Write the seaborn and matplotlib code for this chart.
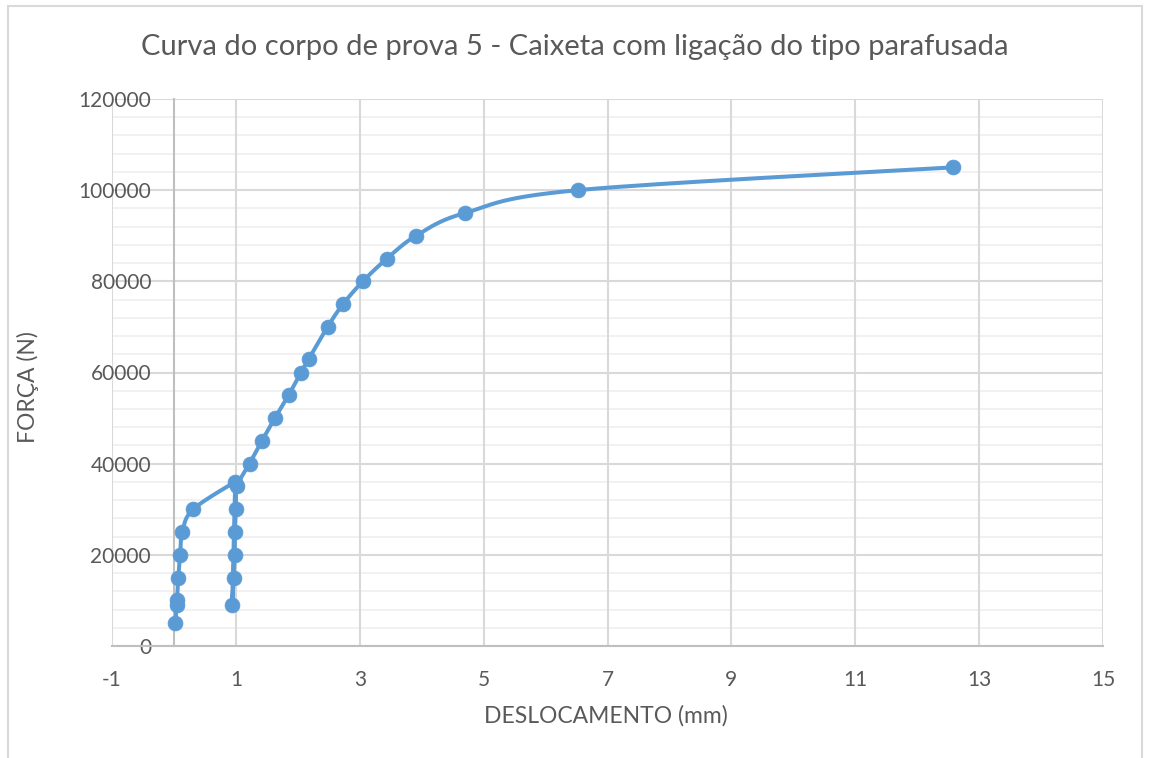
import numpy as np
import pandas as pd
import matplotlib
matplotlib.use("Agg")
import matplotlib.pyplot as plt
from matplotlib.patches import Rectangle
import seaborn as sns

# Load-displacement readings, in test order (loading, unloading, reloading)
deslocamento = [0.02, 0.05, 0.05, 0.07, 0.10, 0.135, 0.31, 0.99,
                0.94, 0.965, 0.98, 0.985, 1.00, 1.02,
                1.22, 1.42, 1.63, 1.85, 2.05, 2.18, 2.48, 2.73,
                3.05, 3.44, 3.91, 4.70, 6.52, 12.58]
forca = [5000, 9000, 10000, 15000, 20000, 25000, 30000, 36000,
         9000, 15000, 20000, 25000, 30000, 35000,
         40000, 45000, 50000, 55000, 60000, 63000, 70000, 75000,
         80000, 85000, 90000, 95000, 100000, 105000]

x_ticks = [-1, 1, 3, 5, 7, 9, 11, 13, 15]
y_ticks = [0, 20000, 40000, 60000, 80000, 100000, 120000]

titulo = "Curva do corpo de prova 5 - Caixeta com ligação do tipo parafusada"
rotulo_x = "DESLOCAMENTO (mm)"
rotulo_y = "FORÇA (N)"

AZUL = "#5B9BD5"
TEXTO = "#595959"
XMIN, XMAX, YMIN, YMAX = -1, 15, 0, 120000

W, H = 1149, 758
sns.set_theme(style="white")
plt.rcParams["font.family"] = ["Lato", "DejaVu Sans"]

fig = plt.figure(figsize=(W / 100, H / 100), dpi=100)
ax = fig.add_axes([112 / W, 1 - 646 / H, (1103 - 112) / W, (646 - 99) / H])
ax.set_xlim(XMIN, XMAX)
ax.set_ylim(YMIN, YMAX)


def suavizar(xs, ys, n=30):
    """Bezier smoothing through every point (Catmull-Rom style tangents),
    computed in screen-proportional units; at reversals of direction the
    tangent is dropped so the path turns sharply instead of looping."""
    sx = 991 / (XMAX - XMIN)
    sy = 547 / (YMAX - YMIN)
    p = np.column_stack([np.asarray(xs) * sx, np.asarray(ys) * sy])
    m = len(p)
    tang = np.zeros_like(p)
    for i in range(m):
        a = p[max(i - 1, 0)]
        b = p[min(i + 1, m - 1)]
        if 0 < i < m - 1:
            d_in = p[i] - p[i - 1]
            d_out = p[i + 1] - p[i]
            if np.dot(d_in, d_out) < 0:
                continue
        tang[i] = (b - a) / 6
    out = []
    t = np.linspace(0, 1, n)[:, None]
    for i in range(m - 1):
        p1, p2 = p[i], p[i + 1]
        c1 = p1 + tang[i]
        c2 = p2 - tang[i + 1]
        seg = ((1 - t) ** 3) * p1 + 3 * ((1 - t) ** 2) * t * c1 \
            + 3 * (1 - t) * t ** 2 * c2 + t ** 3 * p2
        out.append(seg if i == 0 else seg[1:])
    c = np.vstack(out)
    return c[:, 0] / sx, c[:, 1] / sy


cx, cy = suavizar(deslocamento, forca)
curva = pd.DataFrame({"x": cx, "y": cy})
pontos = pd.DataFrame({"x": deslocamento, "y": forca})

# grid: minor horizontals every 4000 N, majors every 20000 N, verticals every 2 mm
for yv in np.arange(0, 120001, 4000):
    ax.axhline(yv, color="#f0f0f0", lw=1.3, zorder=0)
for yv in y_ticks:
    ax.axhline(yv, color="#d9d9d9", lw=1.5, zorder=0.5)
for xv in x_ticks:
    ax.axvline(xv, color="#d9d9d9", lw=1.5, zorder=0.5)

sns.lineplot(data=curva, x="x", y="y", sort=False, estimator=None,
             color=AZUL, lw=2.9, ax=ax, zorder=3)
sns.scatterplot(data=pontos, x="x", y="y", color=AZUL, s=115,
                edgecolor=AZUL, linewidth=0.5, ax=ax, zorder=4)

for s in ["top", "right"]:
    ax.spines[s].set_visible(False)
ax.spines["left"].set_position(("data", 0))
ax.spines["left"].set_color("#bfbfbf")
ax.spines["left"].set_linewidth(1.5)
ax.spines["bottom"].set_color("#bfbfbf")
ax.spines["bottom"].set_linewidth(1.5)

ax.set_xticks(x_ticks)
ax.set_xticklabels([str(v) for v in x_ticks])
ax.set_yticks(y_ticks)
ax.set_yticklabels([str(v) for v in y_ticks])
ax.tick_params(axis="both", length=0, labelsize=15, labelcolor=TEXTO)
ax.tick_params(axis="x", pad=17)
ax.tick_params(axis="y", pad=16.5)

ax.set_xlabel("")
ax.set_ylabel("")
fig.text(606 / W, 1 - 716 / H, rotulo_x, ha="center", va="center",
         fontsize=16.5, color=TEXTO)
fig.text(28 / W, 1 - 387 / H, rotulo_y, ha="center", va="center",
         rotation=90, fontsize=16.5, color=TEXTO)
fig.text(575 / W, 1 - 47 / H, titulo, ha="center", va="center",
         fontsize=21, color=TEXTO)

# chart frame
fig.patches.append(Rectangle((8 / W, -0.05), (1142 - 8) / W, 1.05 - 6 / H,
                             transform=fig.transFigure, fill=False,
                             edgecolor="#d9d9d9", lw=1.5))

fig.savefig("out.png", dpi=100, facecolor="white")
